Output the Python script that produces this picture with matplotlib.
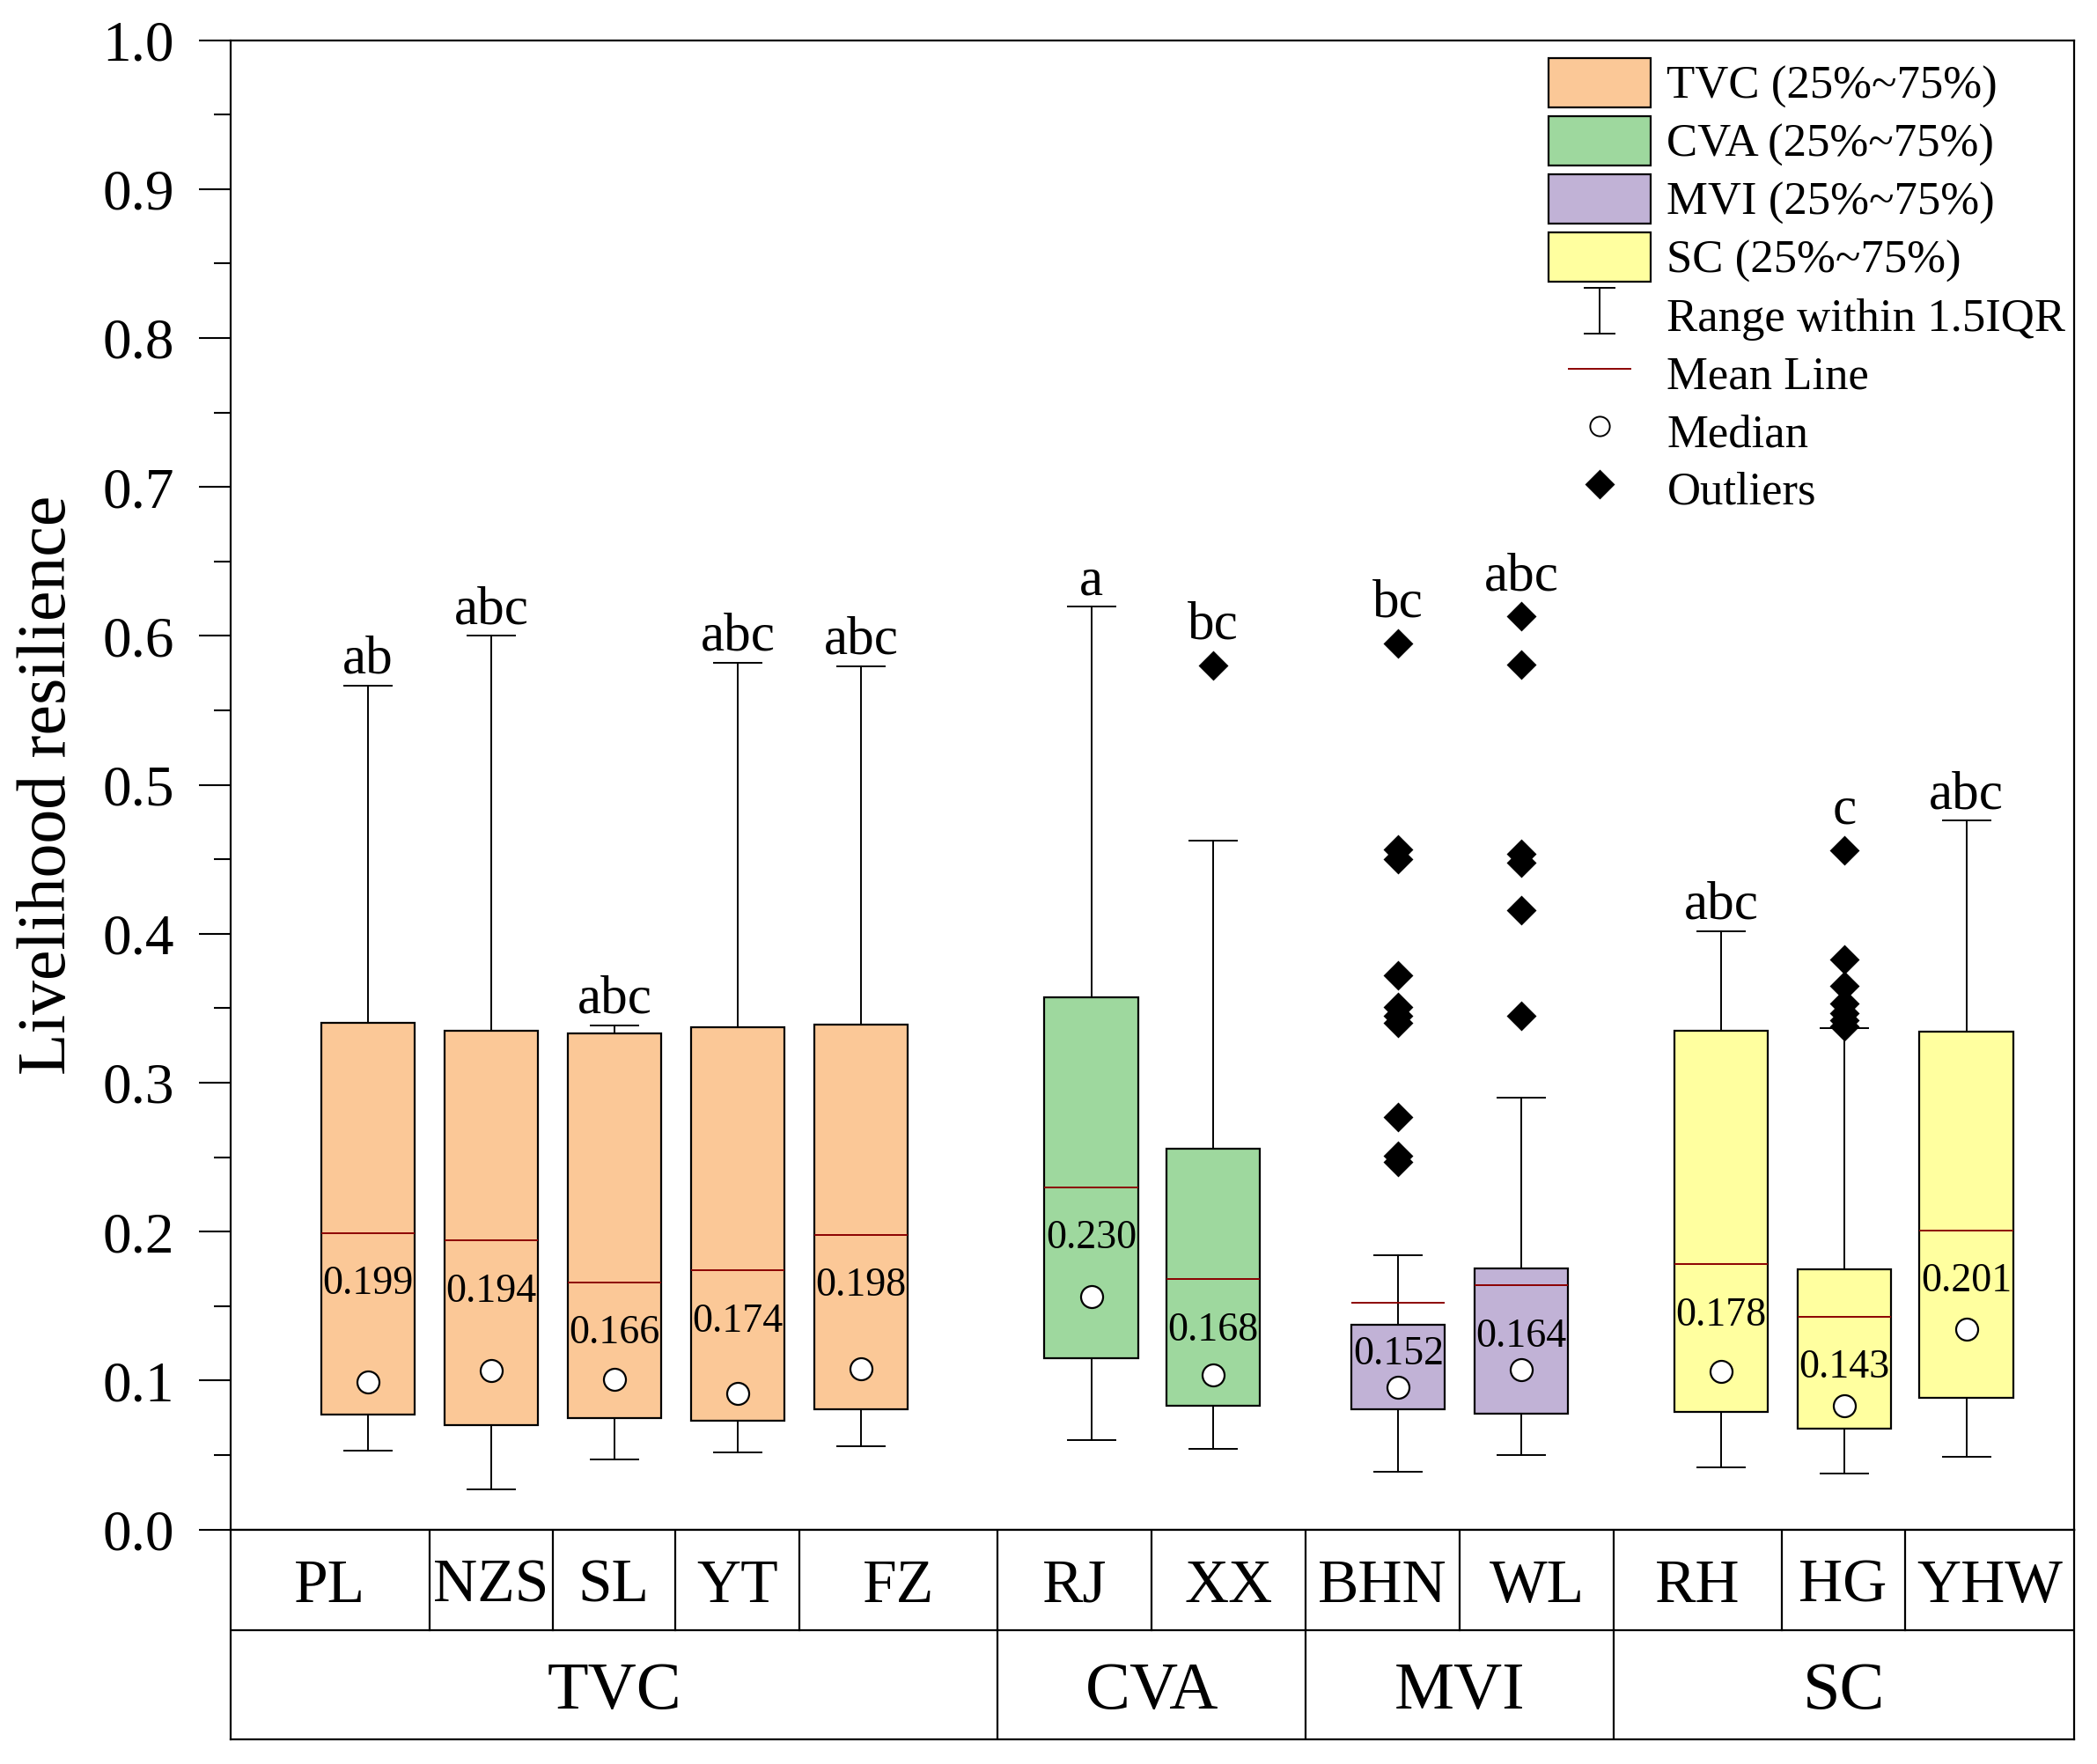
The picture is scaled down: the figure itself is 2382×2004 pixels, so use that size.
import matplotlib
matplotlib.use('Agg')
import matplotlib.pyplot as plt
from matplotlib.patches import Patch
from matplotlib.lines import Line2D
from matplotlib.path import Path
import numpy as np

plt.rcParams['font.family'] = ['Liberation Serif', 'DejaVu Serif']

# ---- data ----
sites  = ['PL', 'NZS', 'SL', 'YT', 'FZ', 'RJ', 'XX', 'BHN', 'WL', 'RH', 'HG', 'YHW']
site_group = ['TVC', 'TVC', 'TVC', 'TVC', 'TVC', 'CVA', 'CVA', 'MVI', 'MVI', 'SC', 'SC', 'SC']
groups = ['TVC', 'CVA', 'MVI', 'SC']
letters = ['ab', 'abc', 'abc', 'abc', 'abc', 'a', 'bc', 'bc', 'abc', 'abc', 'c', 'abc']

q1     = [0.077, 0.070, 0.075, 0.073, 0.081, 0.115, 0.083, 0.081, 0.078, 0.079, 0.068, 0.0885]
q3     = [0.340, 0.335, 0.333, 0.3375, 0.339, 0.3575, 0.256, 0.1377, 0.1756, 0.335, 0.175, 0.3345]
median = [0.099, 0.107, 0.1006, 0.0916, 0.108, 0.1566, 0.1037, 0.0953, 0.1075, 0.106, 0.083, 0.1347]
mean   = [0.199, 0.194, 0.166, 0.174, 0.198, 0.230, 0.168, 0.152, 0.164, 0.178, 0.143, 0.201]
whislo = [0.053, 0.027, 0.047, 0.052, 0.056, 0.060, 0.054, 0.039, 0.050, 0.0416, 0.0375, 0.0488]
whishi = [0.5667, 0.600, 0.3386, 0.5818, 0.5796, 0.6195, 0.4623, 0.1843, 0.2898, 0.4018, 0.3366, 0.4759]
fliers = [[], [], [], [], [], [],
          [0.580],
          [0.595, 0.4565, 0.450, 0.372, 0.351, 0.345, 0.340, 0.277, 0.251, 0.247],
          [0.613, 0.581, 0.454, 0.448, 0.416, 0.345],
          [],
          [0.456, 0.383, 0.365, 0.353, 0.347, 0.342, 0.338],
          []]

group_colors = {'TVC': '#FBC897', 'CVA': '#9ED89E', 'MVI': '#C1B2D6', 'SC': '#FFFF9F'}

# layout (box centres and table cell edges, in box-spacing units)
pos = [0, 1, 2, 3, 4, 5.87, 6.86, 8.36, 9.36, 10.98, 11.98, 12.97]
xlim = (-1.114, 13.843)
site_edges = [-1.114, 0.5, 1.5, 2.49, 3.5, 5.11, 6.36, 7.61, 8.86, 10.11, 11.47, 12.47, 13.843]
group_edges = [-1.114, 5.11, 7.61, 10.11, 13.843]

fig = plt.figure(figsize=(11.91, 10.02), dpi=200)
ax = fig.add_axes([0.110, 0.1329, 0.879, 0.8443])
tab = fig.add_axes([0.110, 0.01397, 0.879, 0.119])

stats = []
for i in range(len(sites)):
    stats.append(dict(med=median[i], q1=q1[i], q3=q3[i], whislo=whislo[i],
                      whishi=whishi[i], fliers=fliers[i], mean=mean[i]))

bp = ax.bxp(stats, positions=pos, widths=0.76, patch_artist=True,
            showmeans=True, meanline=True, showfliers=True,
            boxprops=dict(edgecolor='black', linewidth=0.8),
            whiskerprops=dict(color='black', linewidth=0.7),
            capprops=dict(color='black', linewidth=0.7),
            capwidths=0.385,
            medianprops=dict(linewidth=0),
            meanprops=dict(color='#8B0000', linewidth=0.7, linestyle='-'),
            flierprops=dict(marker='D', markerfacecolor='black', markeredgecolor='black',
                            markersize=7.6, linestyle='none'))
for b, g in zip(bp['boxes'], site_group):
    b.set_facecolor(group_colors[g])

# median dots
ax.plot(pos, median, 'o', ms=9, mfc='white', mec='black', mew=0.8, zorder=4)

# mean value labels and significance letters
for i in range(len(sites)):
    ax.text(pos[i], mean[i] - 0.041, '%.3f' % mean[i], ha='center', va='baseline',
            fontsize=16.5, zorder=5)
    top = whishi[i]
    off = 0.0085
    if len(fliers[i]) > 0 and max(fliers[i]) > top:
        top = max(fliers[i])
        off = 0.018
    ax.text(pos[i], top + off, letters[i], ha='center', va='baseline', fontsize=22)

ax.set_xlim(*xlim)
ax.set_ylim(0, 1.0)
ax.set_yticks(np.arange(0, 1.01, 0.1))
ax.set_yticks(np.arange(0.05, 1.0, 0.1), minor=True)
ax.set_yticklabels(['%.1f' % v for v in np.arange(0, 1.01, 0.1)])
ax.tick_params(axis='y', which='major', length=13, width=0.75, labelsize=23.5, pad=10)
ax.tick_params(axis='y', which='minor', length=6.8, width=0.75)
ax.tick_params(axis='x', bottom=False, labelbottom=False)
for s in ax.spines.values():
    s.set_linewidth(0.8)
ax.set_ylabel('Livelihood resilience', fontsize=28)
ax.yaxis.set_label_coords(-0.0817, 0.5)

# legend
ibeam = Path([(-0.34, 0.5), (0.34, 0.5), (0, 0.5), (0, -0.5), (-0.34, -0.5), (0.34, -0.5)],
             [Path.MOVETO, Path.LINETO, Path.MOVETO, Path.LINETO, Path.MOVETO, Path.LINETO])
handles = [Patch(facecolor=group_colors[g], edgecolor='black', linewidth=0.8) for g in groups]
handles += [Line2D([], [], marker=ibeam, ms=19, mfc='none', mec='black', mew=0.7, ls='none'),
            Line2D([], [], marker='_', ms=26, mec='#8B0000', mew=0.7, ls='none'),
            Line2D([], [], marker='o', ms=8, mfc='white', mec='black', mew=0.7, ls='none'),
            Line2D([], [], marker='D', ms=7.6, mfc='black', mec='black', ls='none')]
labels = ['%s (25%%~75%%)' % g for g in groups] + ['Range within 1.5IQR', 'Mean Line',
                                                   'Median', 'Outliers']
ax.legend(handles, labels, loc='upper left', bbox_to_anchor=(0.7149, 0.988),
          frameon=False, fontsize=19, borderpad=0, borderaxespad=0,
          handlelength=2.2, handleheight=1.255, handletextpad=0.35, labelspacing=0.17)

# category table under the plot
tab.set_xlim(*xlim)
tab.set_ylim(0, 1)
tab.set_xticks([])
tab.set_yticks([])
for s in tab.spines.values():
    s.set_linewidth(0.8)
mid = 0.521
tab.axhline(mid, color='black', linewidth=0.8)
for e in site_edges[1:-1]:
    tab.plot([e, e], [mid, 1], color='black', linewidth=0.8)
for e in group_edges[1:-1]:
    tab.plot([e, e], [0, mid], color='black', linewidth=0.8)
for i, s in enumerate(sites):
    tab.text((site_edges[i] + site_edges[i + 1]) / 2, 0.656, s, ha='center',
             va='baseline', fontsize=25)
for i, g in enumerate(groups):
    tab.text((group_edges[i] + group_edges[i + 1]) / 2, 0.147, g, ha='center',
             va='baseline', fontsize=27.5)

fig.savefig('out.png', dpi=200)
